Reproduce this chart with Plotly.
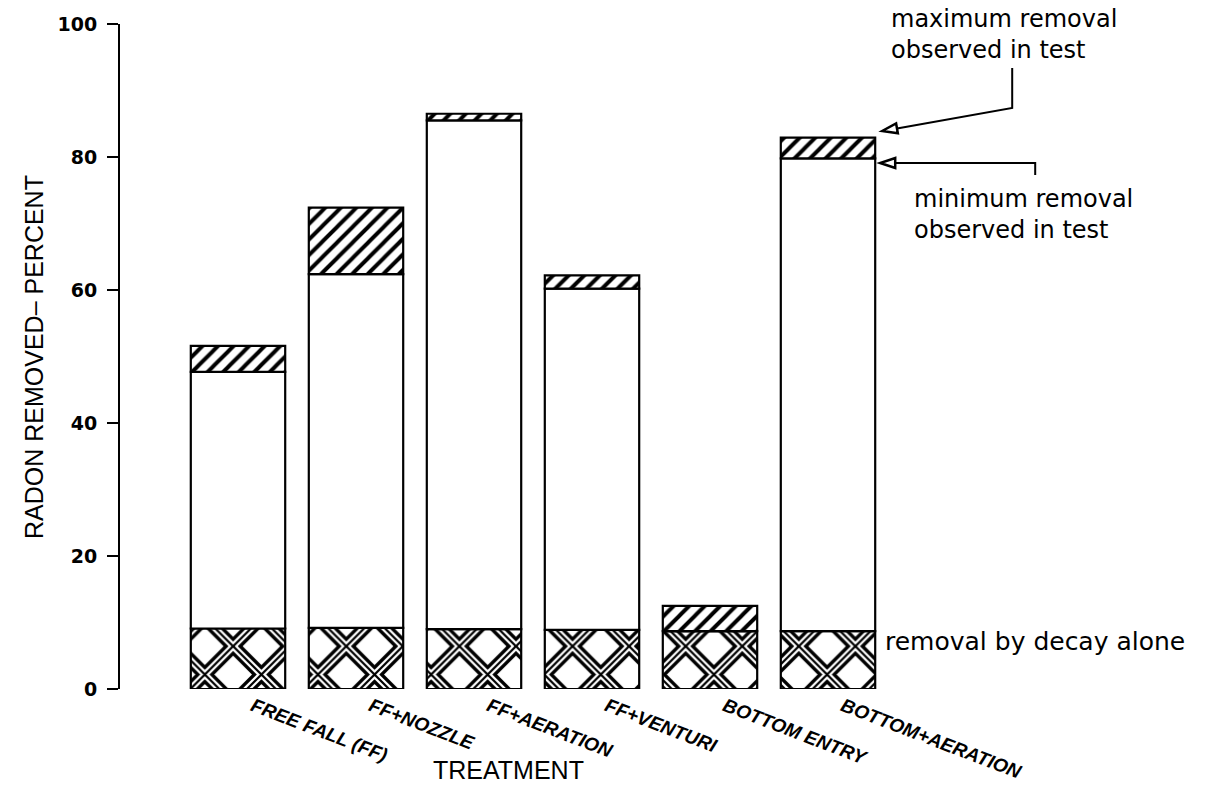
import math
import plotly.graph_objects as go

# ---------------- data ----------------
categories = ["FREE FALL (FF)", "FF+NOZZLE", "FF+AERATION", "FF+VENTURI",
              "BOTTOM ENTRY", "BOTTOM+AERATION"]
decay_alone = [9.1, 9.2, 9.0, 8.9, 8.7, 8.7]        # removal by decay alone
min_removal = [47.7, 62.4, 85.5, 60.2, 8.7, 79.8]   # minimum removal observed
max_removal = [51.6, 72.4, 86.5, 62.2, 12.5, 82.9]  # maximum removal observed
y_ticks = [0, 20, 40, 60, 80, 100]

# ---------------- layout constants ----------------
W, H = 1210, 793
ML, MT, MB, MR = 120, 24, 104, 0
PX_PER_X = 118.0                      # pixels per category step
X0 = -1.0
X1 = X0 + (W - ML - MR) / PX_PER_X
PX_PER_Y = (H - MT - MB) / 100.0
BW = 0.8

xs = list(range(len(categories)))
mid_h = [mn - d for mn, d in zip(min_removal, decay_alone)]
top_h = [mx - mn for mx, mn in zip(max_removal, min_removal)]

fig = go.Figure()
line = dict(color="black", width=2.2)

# decay alone: triple-line cross hatch built from three overlaid pattern layers
fig.add_trace(go.Bar(x=xs, y=decay_alone, base=[0] * len(xs), width=BW,
                     marker=dict(color="white", line=dict(width=0),
                                 pattern=dict(shape="x", size=40, solidity=0.56,
                                              fgcolor="#000000", fgopacity=1,
                                              bgcolor="white")),
                     cliponaxis=False, hoverinfo="skip"))
fig.add_trace(go.Bar(x=xs, y=decay_alone, base=[0] * len(xs), width=BW,
                     marker=dict(color="rgba(0,0,0,0)", line=dict(width=0),
                                 pattern=dict(shape="x", size=40, solidity=0.3,
                                              fgcolor="#ffffff", fgopacity=1,
                                              bgcolor="rgba(0,0,0,0)")),
                     cliponaxis=False, hoverinfo="skip"))
fig.add_trace(go.Bar(x=xs, y=decay_alone, base=[0] * len(xs), width=BW,
                     marker=dict(color="rgba(0,0,0,0)", line=line,
                                 pattern=dict(shape="x", size=40, solidity=0.11,
                                              fgcolor="#000000", fgopacity=1,
                                              bgcolor="rgba(0,0,0,0)")),
                     cliponaxis=False, hoverinfo="skip"))
# white middle part
fig.add_trace(go.Bar(x=xs, y=mid_h, base=decay_alone, width=BW,
                     marker=dict(color="white", line=line),
                     cliponaxis=False, hoverinfo="skip"))
# diagonal hatch: range between min and max observed
fig.add_trace(go.Bar(x=xs, y=top_h, base=min_removal, width=BW,
                     marker=dict(color="white", line=line,
                                 pattern=dict(shape="/", size=11, solidity=0.36,
                                              fgcolor="#000000", fgopacity=1,
                                              bgcolor="white")),
                     cliponaxis=False, hoverinfo="skip"))

# ---------------- pointer lines with open triangle heads ----------------
def dx(px):
    return px / PX_PER_X

def dy(px):
    return px / PX_PER_Y

last = len(xs) - 1
right_edge = xs[last] + BW / 2

shapes = []

def pointer(tip_x, tip_y, pts, head_dir):
    ux, uy = head_dir
    L, hw = 15.0, 5.0
    bx, by = ux * L, uy * L
    nx, ny = -uy * hw, ux * hw
    p1 = (tip_x + dx(bx + nx), tip_y - dy(by + ny))
    p2 = (tip_x + dx(bx - nx), tip_y - dy(by - ny))
    base = (tip_x + dx(bx), tip_y - dy(by))
    path = f"M{tip_x},{tip_y} L{p1[0]},{p1[1]} L{p2[0]},{p2[1]} Z"
    shapes.append(dict(type="path", path=path, xref="x", yref="y",
                       line=dict(color="black", width=2.5), fillcolor="white"))
    all_pts = [base] + pts
    d = "M" + " L".join(f"{p[0]},{p[1]}" for p in all_pts)
    shapes.append(dict(type="path", path=d, xref="x", yref="y",
                       line=dict(color="black", width=2)))

# maximum pointer
tipx = right_edge + dx(7)
tipy = max_removal[last] + dy(6.7)
cx, cy = tipx + dx(130), tipy + dy(23)
ln = math.hypot(130, 23)
pointer(tipx, tipy, [(cx, cy), (cx, cy + dy(40))], (130 / ln, -23 / ln))

# minimum pointer
tipx2 = right_edge + dx(5)
tipy2 = min_removal[last] - dy(4.7)
cx2 = tipx2 + dx(155)
pointer(tipx2, tipy2, [(cx2, tipy2), (cx2, tipy2 - dy(12))], (1.0, 0.0))

# ---------------- annotations ----------------
def paper_x(px):
    return (px - ML) / (W - ML - MR)

def paper_y(py):
    return (H - MB - py) / (H - MT - MB)

afont = dict(family="DejaVu Sans", size=24, color="black")
annotations = [
    dict(text="maximum removal<br>observed in test", x=paper_x(889), y=paper_y(35),
         xref="paper", yref="paper", xanchor="left", yanchor="middle",
         align="left", showarrow=False, font=afont),
    dict(text="minimum removal<br>observed in test", x=paper_x(912), y=paper_y(215),
         xref="paper", yref="paper", xanchor="left", yanchor="middle",
         align="left", showarrow=False, font=afont),
    dict(text="removal by decay alone", x=paper_x(883), y=paper_y(641),
         xref="paper", yref="paper", xanchor="left", yanchor="middle",
         align="left", showarrow=False,
         font=dict(family="DejaVu Sans", size=25, color="black")),
    dict(text="RADON REMOVED\u2013 PERCENT", x=paper_x(34), y=paper_y(357),
         xref="paper", yref="paper", xanchor="center", yanchor="middle",
         textangle=-90, showarrow=False,
         font=dict(family="Liberation Sans", size=25, color="black")),
    dict(text="TREATMENT", x=paper_x(508), y=paper_y(770),
         xref="paper", yref="paper", xanchor="center", yanchor="middle",
         showarrow=False,
         font=dict(family="Liberation Sans", size=25, color="black")),
]

fig.update_layout(
    width=W, height=H,
    margin=dict(l=ML, r=MR, t=MT, b=MB, pad=0),
    barmode="overlay",
    showlegend=False,
    paper_bgcolor="white", plot_bgcolor="white",
    shapes=shapes, annotations=annotations,
    xaxis=dict(range=[X0, X1], tickvals=xs, ticktext=categories,
               tickangle=21, showline=False, showgrid=False, zeroline=False,
               ticks="", ticklabelshift=15, ticklabelstandoff=2,
               tickfont=dict(family="Liberation Sans", size=19, color="black",
                             weight="bold", style="italic")),
    yaxis=dict(range=[0, 100], tickvals=y_ticks, showline=True, linecolor="black",
               linewidth=2, ticks="outside", ticklen=11, tickwidth=2,
               tickcolor="black", showgrid=False, zeroline=False,
               ticklabelstandoff=6,
               tickfont=dict(family="DejaVu Sans", size=19, color="black",
                             weight="bold")),
)

fig.write_html("out.html",
               config={"displayModeBar": False, "staticPlot": True},
               post_script="document.body.style.margin='0';"
                           "document.body.style.overflow='hidden';")
